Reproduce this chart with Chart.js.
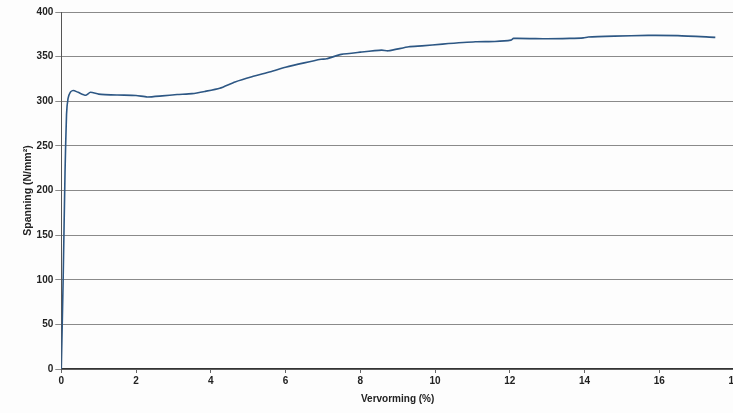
<!DOCTYPE html>
<html>
<head>
<meta charset="utf-8">
<script src="https://cdn.jsdelivr.net/npm/chart.js@4/dist/chart.umd.min.js"></script>
<style>
  html, body { margin: 0; padding: 0; background: #fdfdfd; overflow: hidden; }
  #wrap { position: relative; width: 746px; height: 413px; }
</style>
</head>
<body>
<div id="wrap"><canvas id="c"></canvas></div>
<script>
const strain = [0, 0.05, 0.1, 0.14, 0.18, 0.24, 0.32, 0.45, 0.65, 0.78, 1.0, 1.5, 2.0, 2.3, 2.7, 3.1, 3.5, 3.84, 4.24, 4.65, 5.1, 5.6, 6.0, 6.5, 6.95, 7.1, 7.49, 8.0, 8.57, 8.75, 9.3, 9.65, 10.2, 11.08, 11.6, 12.03, 12.1, 13.0, 13.6, 13.97, 14.1, 14.8, 15.7, 16.5, 17.5];
const stress = [0, 100, 220, 285, 303, 310, 312, 310, 306.7, 310, 308, 307, 306.5, 304.8, 306, 307.5, 308.5, 311, 314.6, 321.7, 327.5, 333, 338, 343, 347, 347.6, 352.5, 355, 357.3, 356.5, 361, 362, 364, 366.6, 367, 368.5, 370.4, 370, 370.4, 371, 372, 373, 373.8, 373.5, 371.6];
const xTitle = 'Vervorming (%)';
const yTitle = 'Spanning (N/mm²)';

const points = strain.map((x, i) => ({ x: x, y: stress[i] }));

new Chart(document.getElementById('c'), {
  type: 'scatter',
  data: {
    datasets: [{
      data: points,
      showLine: true,
      borderColor: '#2d5784',
      borderWidth: 1.6,
      pointRadius: 0,
      tension: 0.2,
      fill: false
    }]
  },
  options: {
    responsive: true,
    maintainAspectRatio: false,
    animation: false,
    layout: { padding: { top: 12, right: 4, left: 22, bottom: 8 } },
    plugins: { legend: { display: false }, tooltip: { enabled: false } },
    scales: {
      x: {
        type: 'linear',
        min: 0, max: 18,
        ticks: { stepSize: 2, color: '#222', font: { family: 'Liberation Sans', size: 10, weight: 'bold' }, padding: 2, maxRotation: 0 },
        grid: { drawOnChartArea: false, tickLength: 4, color: '#666' },
        border: { color: '#333', width: 1.5 },
        title: { display: true, text: xTitle, color: '#222', font: { family: 'Liberation Sans', size: 10, weight: 'bold' }, padding: { top: 4, bottom: 0 } }
      },
      y: {
        min: 0, max: 400,
        ticks: { stepSize: 50, color: '#222', font: { family: 'Liberation Sans', size: 10, weight: 'bold' }, padding: 2 },
        grid: { color: '#8a8a8a', lineWidth: 1, tickLength: 6 },
        border: { color: '#555', width: 1 },
        title: { display: true, text: yTitle, color: '#222', font: { family: 'Liberation Sans', size: 10.5, weight: 'bold' }, padding: { top: 0, bottom: 0 } }
      },
      y2: {
        position: 'right',
        min: 0, max: 400,
        ticks: { display: false },
        grid: { display: false },
        border: { color: '#999', width: 1 }
      }
    }
  }
});
</script>
</body>
</html>
